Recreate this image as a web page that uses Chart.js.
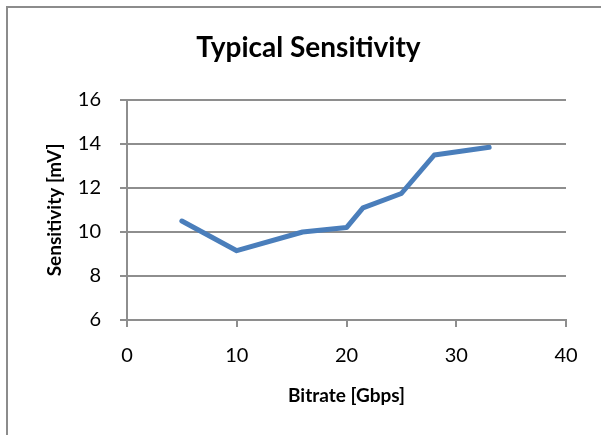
<!DOCTYPE html>
<html lang="en">
<head>
    <meta charset="UTF-8">
    <title>Typical Sensitivity</title>
    <script src="https://cdn.jsdelivr.net/npm/chart.js"></script>
    <style>
        html, body {
            margin: 0;
            padding: 0;
            background: #ffffff;
        }
        #sensChart {
            display: block;
        }
    </style>
</head>
<body>
    <canvas id="sensChart" width="601" height="435"></canvas>

    <script>
        // values
        const bitrate = [5, 10, 16, 20, 21.5, 25, 28, 33];
        const sensitivity = [10.5, 9.15, 10.0, 10.2, 11.1, 11.75, 13.5, 13.85];
        const xTicks = [0, 10, 20, 30, 40];
        const yTicks = [6, 8, 10, 12, 14, 16];

        const gridGrey = '#8e8e8e';
        const fontFamily = 'Lato, "Open Sans", sans-serif';

        // grey outline of the chart area, like the Excel frame
        const frame = {
            id: 'frame',
            beforeDraw(chart) {
                const ctx = chart.ctx;
                ctx.save();
                ctx.fillStyle = '#ffffff';
                ctx.fillRect(0, 0, chart.width, chart.height);
                ctx.strokeStyle = '#8c8c8c';
                ctx.lineWidth = 2;
                ctx.strokeRect(7, 7, chart.width + 20, chart.height + 20);
                ctx.restore();
            }
        };

        const ctx = document.getElementById('sensChart').getContext('2d');
        new Chart(ctx, {
            type: 'scatter',
            data: {
                datasets: [{
                    label: 'Sensitivity',
                    data: bitrate.map((b, i) => ({ x: b, y: sensitivity[i] })),
                    showLine: true,
                    borderColor: '#4a7ebb',
                    borderWidth: 5,
                    borderCapStyle: 'round',
                    borderJoinStyle: 'round',
                    pointRadius: 0,
                    pointHoverRadius: 0,
                    tension: 0
                }]
            },
            options: {
                responsive: false,
                animation: false,
                devicePixelRatio: 1,
                layout: {
                    padding: { left: 16, right: 0, top: 0, bottom: 0 }
                },
                plugins: {
                    legend: { display: false },
                    tooltip: { enabled: false },
                    title: {
                        display: true,
                        text: 'Typical Sensitivity',
                        color: '#000000',
                        font: { family: fontFamily, size: 28, weight: 'bold' },
                        padding: { top: 31.2, bottom: 35.2 }
                    }
                },
                scales: {
                    x: {
                        type: 'linear',
                        min: xTicks[0],
                        max: xTicks[xTicks.length - 1],
                        afterBuildTicks: s => { s.ticks = xTicks.map(v => ({ value: v })); },
                        afterFit: s => { s.height = 115; s.paddingRight = 35; },
                        grid: {
                            drawOnChartArea: false,
                            drawTicks: true,
                            tickLength: 7,
                            color: gridGrey,
                            lineWidth: 2
                        },
                        border: { display: true, color: gridGrey, width: 2 },
                        ticks: {
                            color: '#000000',
                            padding: 17,
                            font: { family: fontFamily, size: 20 }
                        },
                        title: {
                            display: true,
                            text: 'Bitrate [Gbps]',
                            color: '#000000',
                            font: { family: fontFamily, size: 19, weight: 'bold' },
                            padding: { top: 0, bottom: 27.6 }
                        }
                    },
                    y: {
                        type: 'linear',
                        min: yTicks[0],
                        max: yTicks[yTicks.length - 1],
                        afterBuildTicks: s => { s.ticks = yTicks.map(v => ({ value: v })); },
                        afterFit: s => { s.width = 111; },
                        grid: {
                            drawOnChartArea: true,
                            drawTicks: true,
                            tickLength: 7,
                            color: gridGrey,
                            lineWidth: 2
                        },
                        border: { display: true, color: gridGrey, width: 2 },
                        ticks: {
                            color: '#000000',
                            padding: 19,
                            font: { family: fontFamily, size: 20 }
                        },
                        title: {
                            display: true,
                            text: 'Sensitivity [mV]',
                            color: '#000000',
                            font: { family: fontFamily, size: 19, weight: 'bold' },
                            padding: { top: 27.6, bottom: 0 }
                        }
                    }
                }
            },
            plugins: [frame]
        });
    </script>
</body>
</html>
